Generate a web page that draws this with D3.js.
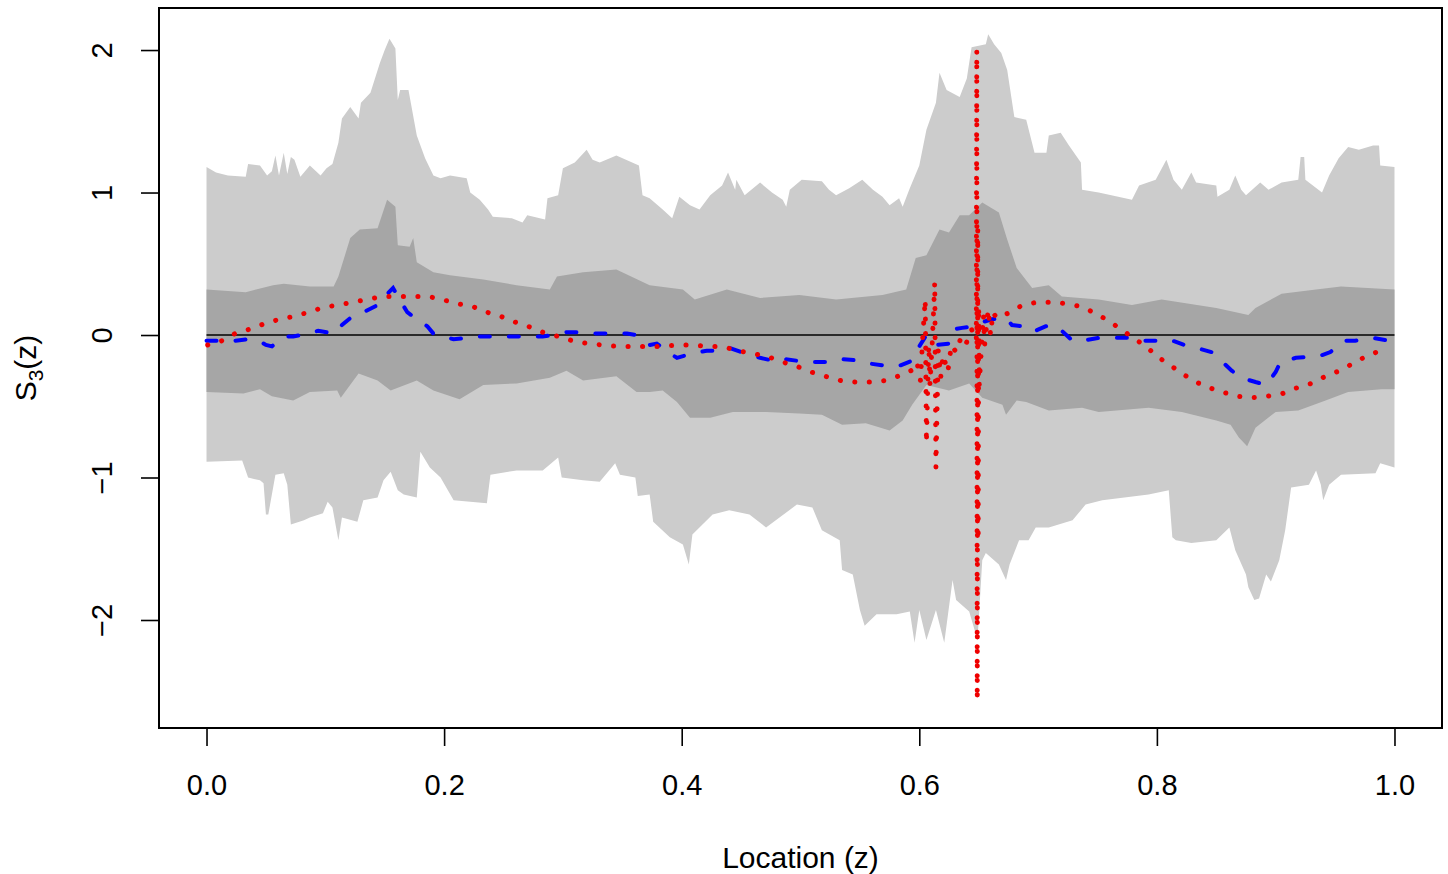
<!DOCTYPE html>
<html>
<head>
<meta charset="utf-8">
<script src="https://cdn.jsdelivr.net/npm/d3@7"></script>
<style>
  body { margin: 0; background: #fff; }
  text { font-family: "Liberation Sans", Arial, Helvetica, sans-serif; fill: #000; }
</style>
</head>
<body>
<svg id="chart" width="1448" height="874"></svg>
<script>
// [location z, value]
const outerUpper = [[0.000,1.18],[0.008,1.14],[0.018,1.12],[0.033,1.11],[0.035,1.20],[0.045,1.19],[0.051,1.12],[0.055,1.15],[0.058,1.26],[0.061,1.12],[0.065,1.28],[0.068,1.13],[0.071,1.25],[0.074,1.23],[0.079,1.11],[0.087,1.19],[0.096,1.12],[0.101,1.17],[0.106,1.20],[0.111,1.35],[0.114,1.52],[0.121,1.60],[0.128,1.52],[0.130,1.63],[0.138,1.70],[0.146,1.91],[0.150,2.00],[0.154,2.08],[0.159,2.01],[0.161,1.65],[0.163,1.72],[0.170,1.72],[0.177,1.40],[0.184,1.24],[0.191,1.12],[0.197,1.10],[0.205,1.12],[0.219,1.10],[0.222,1.00],[0.230,0.95],[0.237,0.88],[0.241,0.83],[0.257,0.82],[0.266,0.79],[0.270,0.84],[0.285,0.81],[0.287,0.96],[0.296,0.98],[0.300,1.17],[0.310,1.21],[0.320,1.30],[0.325,1.23],[0.331,1.21],[0.345,1.26],[0.364,1.19],[0.367,0.98],[0.373,0.96],[0.384,0.88],[0.392,0.82],[0.398,0.97],[0.407,0.91],[0.415,0.88],[0.424,0.98],[0.434,1.05],[0.439,1.14],[0.445,1.02],[0.446,1.09],[0.453,0.98],[0.466,1.07],[0.476,1.00],[0.485,0.95],[0.488,0.90],[0.491,1.02],[0.501,1.09],[0.518,1.08],[0.524,1.02],[0.530,0.98],[0.541,1.03],[0.552,1.09],[0.561,1.02],[0.569,0.97],[0.575,0.91],[0.583,0.96],[0.586,0.90],[0.592,1.03],[0.600,1.19],[0.606,1.44],[0.614,1.63],[0.617,1.84],[0.623,1.72],[0.634,1.67],[0.640,1.80],[0.644,2.02],[0.656,2.04],[0.658,2.11],[0.663,2.04],[0.669,1.98],[0.674,1.86],[0.680,1.53],[0.690,1.51],[0.697,1.28],[0.707,1.28],[0.709,1.40],[0.719,1.42],[0.726,1.33],[0.736,1.21],[0.737,1.02],[0.751,1.00],[0.779,0.95],[0.785,1.05],[0.799,1.09],[0.808,1.23],[0.814,1.09],[0.821,1.02],[0.829,1.14],[0.833,1.07],[0.850,1.05],[0.851,0.97],[0.861,1.02],[0.866,1.12],[0.871,1.02],[0.875,0.98],[0.887,1.07],[0.894,1.02],[0.905,1.07],[0.919,1.09],[0.921,1.25],[0.924,1.25],[0.925,1.09],[0.939,1.00],[0.945,1.12],[0.953,1.24],[0.961,1.32],[0.970,1.30],[0.982,1.33],[0.987,1.33],[0.988,1.19],[1.000,1.18]];

const outerLower = [[0.000,-0.89],[0.030,-0.88],[0.035,-1.00],[0.045,-1.02],[0.048,-1.04],[0.050,-1.26],[0.052,-1.26],[0.058,-0.98],[0.065,-0.97],[0.068,-1.05],[0.071,-1.33],[0.082,-1.30],[0.087,-1.28],[0.098,-1.25],[0.102,-1.17],[0.106,-1.21],[0.111,-1.44],[0.114,-1.28],[0.127,-1.31],[0.132,-1.16],[0.144,-1.14],[0.149,-1.02],[0.155,-0.96],[0.161,-1.09],[0.166,-1.12],[0.177,-1.14],[0.180,-0.82],[0.188,-0.93],[0.197,-1.00],[0.208,-1.16],[0.236,-1.18],[0.239,-0.98],[0.261,-0.95],[0.283,-0.95],[0.296,-0.86],[0.299,-1.00],[0.317,-1.02],[0.331,-1.03],[0.344,-0.90],[0.348,-0.98],[0.361,-1.00],[0.363,-1.13],[0.373,-1.12],[0.376,-1.31],[0.390,-1.42],[0.401,-1.47],[0.406,-1.61],[0.409,-1.40],[0.426,-1.26],[0.440,-1.23],[0.457,-1.26],[0.471,-1.35],[0.497,-1.19],[0.510,-1.21],[0.518,-1.37],[0.533,-1.44],[0.535,-1.65],[0.544,-1.68],[0.550,-1.93],[0.554,-2.04],[0.564,-1.96],[0.581,-1.96],[0.592,-1.94],[0.596,-2.16],[0.600,-1.93],[0.606,-2.14],[0.614,-1.93],[0.621,-2.16],[0.628,-1.72],[0.631,-1.86],[0.642,-1.94],[0.649,-2.14],[0.653,-1.58],[0.656,-1.53],[0.667,-1.61],[0.673,-1.72],[0.676,-1.61],[0.684,-1.44],[0.692,-1.44],[0.698,-1.35],[0.709,-1.35],[0.729,-1.30],[0.740,-1.19],[0.754,-1.16],[0.793,-1.12],[0.810,-1.09],[0.813,-1.42],[0.816,-1.44],[0.829,-1.46],[0.850,-1.44],[0.861,-1.35],[0.866,-1.51],[0.875,-1.68],[0.877,-1.77],[0.882,-1.86],[0.886,-1.85],[0.892,-1.68],[0.896,-1.73],[0.903,-1.58],[0.908,-1.37],[0.913,-1.07],[0.928,-1.05],[0.934,-0.95],[0.938,-1.05],[0.940,-1.16],[0.945,-1.05],[0.955,-0.98],[0.984,-0.97],[0.988,-0.90],[1.000,-0.93]];

const innerUpper = [[0.000,0.32],[0.033,0.30],[0.056,0.35],[0.065,0.36],[0.087,0.34],[0.107,0.34],[0.111,0.41],[0.121,0.68],[0.129,0.74],[0.144,0.75],[0.152,0.95],[0.159,0.90],[0.161,0.63],[0.171,0.62],[0.174,0.68],[0.177,0.51],[0.191,0.44],[0.205,0.42],[0.233,0.39],[0.261,0.35],[0.289,0.32],[0.295,0.41],[0.317,0.44],[0.345,0.46],[0.373,0.35],[0.401,0.32],[0.411,0.25],[0.438,0.32],[0.466,0.26],[0.499,0.28],[0.530,0.25],[0.569,0.28],[0.589,0.32],[0.597,0.54],[0.606,0.56],[0.617,0.74],[0.625,0.72],[0.634,0.84],[0.642,0.84],[0.653,0.93],[0.667,0.86],[0.674,0.67],[0.682,0.47],[0.695,0.33],[0.709,0.35],[0.720,0.27],[0.751,0.25],[0.779,0.21],[0.804,0.25],[0.850,0.19],[0.877,0.14],[0.883,0.19],[0.905,0.29],[0.934,0.32],[0.955,0.34],[1.000,0.32]];

const innerLower = [[0.000,-0.40],[0.031,-0.41],[0.045,-0.38],[0.055,-0.43],[0.073,-0.46],[0.087,-0.40],[0.110,-0.39],[0.113,-0.44],[0.128,-0.27],[0.144,-0.32],[0.155,-0.39],[0.177,-0.32],[0.191,-0.39],[0.213,-0.45],[0.233,-0.35],[0.261,-0.34],[0.289,-0.30],[0.303,-0.25],[0.317,-0.32],[0.345,-0.29],[0.362,-0.40],[0.373,-0.40],[0.384,-0.39],[0.396,-0.47],[0.407,-0.58],[0.424,-0.58],[0.443,-0.54],[0.471,-0.54],[0.499,-0.55],[0.518,-0.56],[0.535,-0.63],[0.555,-0.62],[0.575,-0.67],[0.586,-0.60],[0.594,-0.49],[0.606,-0.35],[0.625,-0.39],[0.642,-0.34],[0.653,-0.44],[0.670,-0.49],[0.673,-0.56],[0.682,-0.46],[0.690,-0.47],[0.709,-0.53],[0.737,-0.51],[0.751,-0.54],[0.793,-0.51],[0.821,-0.54],[0.850,-0.60],[0.862,-0.63],[0.869,-0.72],[0.876,-0.78],[0.883,-0.65],[0.900,-0.54],[0.919,-0.53],[0.942,-0.46],[0.961,-0.40],[0.989,-0.38],[1.000,-0.38]];

const estimate = [[0.000,-0.04],[0.012,-0.04],[0.024,-0.04],[0.034,-0.03],[0.044,-0.04],[0.050,-0.07],[0.055,-0.08],[0.065,-0.01],[0.073,-0.01],[0.085,0.01],[0.094,0.03],[0.107,0.01],[0.114,0.07],[0.124,0.14],[0.132,0.16],[0.144,0.21],[0.149,0.26],[0.157,0.33],[0.161,0.27],[0.169,0.16],[0.174,0.13],[0.186,0.06],[0.191,0.01],[0.208,-0.03],[0.230,-0.01],[0.258,-0.01],[0.283,-0.01],[0.292,0.00],[0.303,0.02],[0.314,0.02],[0.329,0.01],[0.339,0.01],[0.354,0.01],[0.362,0.00],[0.373,-0.07],[0.379,-0.06],[0.392,-0.14],[0.396,-0.16],[0.409,-0.13],[0.421,-0.11],[0.434,-0.11],[0.440,-0.09],[0.457,-0.14],[0.466,-0.16],[0.482,-0.19],[0.488,-0.17],[0.505,-0.19],[0.527,-0.19],[0.535,-0.17],[0.552,-0.18],[0.558,-0.20],[0.575,-0.22],[0.582,-0.22],[0.594,-0.18],[0.600,-0.08],[0.606,0.00],[0.608,-0.02],[0.614,-0.07],[0.625,-0.06],[0.629,0.04],[0.636,0.05],[0.645,0.06],[0.653,0.09],[0.661,0.11],[0.673,0.12],[0.678,0.07],[0.687,0.06],[0.695,0.02],[0.709,0.07],[0.716,0.06],[0.729,-0.04],[0.737,-0.04],[0.751,-0.02],[0.776,-0.02],[0.783,-0.04],[0.800,-0.04],[0.810,-0.03],[0.823,-0.07],[0.833,-0.09],[0.846,-0.12],[0.854,-0.18],[0.863,-0.25],[0.871,-0.30],[0.883,-0.33],[0.892,-0.35],[0.900,-0.26],[0.904,-0.19],[0.917,-0.16],[0.936,-0.15],[0.946,-0.12],[0.957,-0.04],[0.967,-0.04],[0.982,-0.02],[0.995,-0.04]];

const reference = [[0.001,-0.07],[0.013,-0.04],[0.024,0.01],[0.036,0.04],[0.049,0.08],[0.061,0.11],[0.073,0.13],[0.086,0.16],[0.097,0.19],[0.110,0.21],[0.123,0.23],[0.135,0.25],[0.148,0.27],[0.161,0.27],[0.174,0.27],[0.187,0.27],[0.198,0.25],[0.211,0.22],[0.224,0.20],[0.236,0.16],[0.248,0.13],[0.260,0.09],[0.271,0.06],[0.283,0.02],[0.296,-0.01],[0.308,-0.04],[0.321,-0.06],[0.333,-0.07],[0.346,-0.08],[0.358,-0.08],[0.371,-0.08],[0.384,-0.08],[0.397,-0.07],[0.409,-0.07],[0.422,-0.08],[0.434,-0.08],[0.447,-0.11],[0.460,-0.13],[0.472,-0.15],[0.485,-0.19],[0.497,-0.22],[0.509,-0.26],[0.521,-0.29],[0.534,-0.32],[0.546,-0.33],[0.559,-0.33],[0.571,-0.32],[0.582,-0.29],[0.593,-0.25],[0.598,-0.19],[0.601,-0.32],[0.603,0.00],[0.605,0.25],[0.606,-0.76],[0.608,-0.07],[0.609,-0.35],[0.611,-0.04],[0.613,0.37],[0.614,-0.93],[0.616,-0.11],[0.618,-0.30],[0.620,-0.14],[0.624,-0.26],[0.627,-0.07],[0.631,-0.12],[0.635,-0.02],[0.639,-0.07],[0.644,0.04],[0.6480,-0.04],[0.6484,2.00],[0.6488,-2.56],[0.6492,0.74],[0.6496,-1.44],[0.6500,0.20],[0.6505,-0.35],[0.654,0.14],[0.655,-0.07],[0.658,0.18],[0.660,0.00],[0.662,0.16],[0.665,0.12],[0.674,0.15],[0.687,0.21],[0.699,0.23],[0.712,0.23],[0.724,0.22],[0.736,0.20],[0.749,0.15],[0.759,0.10],[0.770,0.04],[0.780,-0.02],[0.791,-0.08],[0.800,-0.15],[0.811,-0.21],[0.821,-0.27],[0.833,-0.33],[0.844,-0.37],[0.855,-0.40],[0.868,-0.43],[0.881,-0.44],[0.893,-0.43],[0.906,-0.41],[0.918,-0.37],[0.930,-0.34],[0.942,-0.29],[0.954,-0.25],[0.965,-0.20],[0.976,-0.15],[0.988,-0.11]];

const xTicks = [0, 0.2, 0.4, 0.6, 0.8, 1.0];
const yTicks = [-2, -1, 0, 1, 2];

const margin = { top: 8, right: 6, bottom: 146, left: 159 };
const svg = d3.select("#chart");
const width = +svg.attr("width") - margin.left - margin.right;
const height = +svg.attr("height") - margin.top - margin.bottom;
const g = svg.append("g").attr("transform", `translate(${margin.left},${margin.top})`);

const x = d3.scaleLinear().domain([-0.04, 1.04]).range([0, width]);
const y = d3.scaleLinear().domain([-2.758, 2.295]).range([height, 0]);

const line = d3.line().x((d) => x(d[0])).y((d) => y(d[1]));
const band = (hi, lo) => line(hi.concat(lo.slice().reverse())) + "Z";

g.append("path").attr("d", band(outerUpper, outerLower)).attr("fill", "#cccccc");
g.append("path").attr("d", band(innerUpper, innerLower)).attr("fill", "#a6a6a6");

g.append("line")
  .attr("x1", x(0)).attr("x2", x(1))
  .attr("y1", y(0)).attr("y2", y(0))
  .attr("stroke", "#000").attr("stroke-width", 1.6);

g.append("path")
  .attr("d", line(estimate))
  .attr("fill", "none")
  .attr("stroke", "#0000ff")
  .attr("stroke-width", 4)
  .attr("stroke-linecap", "round")
  .attr("stroke-dasharray", "10,19");

g.append("path")
  .attr("d", line(reference))
  .attr("fill", "none")
  .attr("stroke", "#ee0000")
  .attr("stroke-width", 5)
  .attr("stroke-linecap", "round")
  .attr("stroke-linejoin", "round")
  .attr("stroke-dasharray", "0.1,14.4");

// frame
g.append("rect")
  .attr("width", width).attr("height", height)
  .attr("fill", "none").attr("stroke", "#000").attr("stroke-width", 2);

const fontSize = 29;

const xAxis = g.append("g")
  .attr("transform", `translate(0,${height})`)
  .call(d3.axisBottom(x).tickValues(xTicks).tickSize(18).tickFormat(d3.format(".1f")));
xAxis.select(".domain").remove();
xAxis.selectAll("line").attr("stroke-width", 1.6);
xAxis.selectAll("text")
  .attr("y", 67).attr("dy", null)
  .style("font-size", fontSize + "px")
  .style("font-family", '"Liberation Sans", Arial, sans-serif');

const yAxis = g.append("g")
  .call(d3.axisLeft(y).tickValues(yTicks).tickSize(18).tickFormat((d) => (d < 0 ? "\u2212" + Math.abs(d) : d)));
yAxis.select(".domain").remove();
yAxis.selectAll("line").attr("stroke-width", 1.6);
yAxis.selectAll("text")
  .attr("x", 0).attr("y", -47).attr("dy", null)
  .attr("transform", "rotate(-90)")
  .attr("text-anchor", "middle")
  .style("font-size", fontSize + "px")
  .style("font-family", '"Liberation Sans", Arial, sans-serif');

svg.append("text")
  .attr("x", margin.left + width / 2)
  .attr("y", 868)
  .attr("text-anchor", "middle")
  .style("font-size", "30px")
  .text("Location (z)");

const yl = svg.append("text")
  .attr("transform", `translate(36,${margin.top + height / 2}) rotate(-90)`)
  .attr("text-anchor", "middle")
  .style("font-size", "30px");
yl.append("tspan").text("S");
yl.append("tspan").attr("dy", 7).style("font-size", "21px").text("3");
yl.append("tspan").attr("dy", -7).text("(z)");
</script>
</body>
</html>
